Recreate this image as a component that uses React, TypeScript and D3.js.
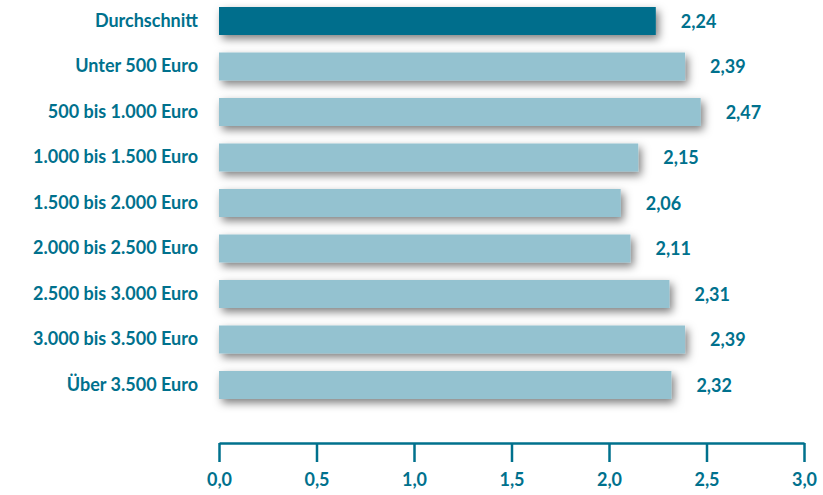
import * as d3 from "d3";
import { useEffect, useRef } from "react";

const width = 823;
const height = 495;

const categories = [
  "Durchschnitt",
  "Unter 500 Euro",
  "500 bis 1.000 Euro",
  "1.000 bis 1.500 Euro",
  "1.500 bis 2.000 Euro",
  "2.000 bis 2.500 Euro",
  "2.500 bis 3.000 Euro",
  "3.000 bis 3.500 Euro",
  "Über 3.500 Euro",
];
const values = [2.24, 2.39, 2.47, 2.15, 2.06, 2.11, 2.31, 2.39, 2.32];
const ticks = [0, 0.5, 1, 1.5, 2, 2.5, 3];

const dark = "#006e8c";
const light = "#94c2d0";
const textColor = "#00718d";
const font = "Lato, 'Open Sans', sans-serif";
const fontSize = 18;

const fmt = (v: number) => d3.format(".2f")(v).replace(".", ",");

const App = () => {
  const ref = useRef<HTMLDivElement>(null);

  useEffect(() => {
    document.body.style.margin = "0";
    const el = ref.current;
    if (!el) return;
    el.innerHTML = "";

    const x = d3.scaleLinear().domain([0, 3]).range([219, 804]);
    const y = d3
      .scaleBand<string>()
      .domain(categories)
      .range([-1.75, -1.75 + categories.length * 45.5])
      .paddingInner(0.385)
      .paddingOuter(0.1925);

    const svg = d3
      .create("svg")
      .attr("width", width)
      .attr("height", height)
      .style("display", "block")
      .style("font-family", font);

    const defs = svg.append("defs");
    const f = defs
      .append("filter")
      .attr("id", "shadow")
      .attr("x", "-10%")
      .attr("y", "-50%")
      .attr("width", "130%")
      .attr("height", "220%");
    f.append("feDropShadow")
      .attr("dx", 3)
      .attr("dy", 4)
      .attr("stdDeviation", 4)
      .attr("flood-color", "#000")
      .attr("flood-opacity", 0.5);

    // bars
    svg
      .append("g")
      .selectAll("rect")
      .data(values)
      .join("rect")
      .attr("x", x(0))
      .attr("y", (_, i) => y(categories[i])!)
      .attr("width", (d) => x(d) - x(0))
      .attr("height", y.bandwidth())
      .attr("fill", (_, i) => (i === 0 ? dark : light))
      .attr("filter", "url(#shadow)");

    // value labels
    svg
      .append("g")
      .selectAll("text")
      .data(values)
      .join("text")
      .attr("x", (d) => x(d) + 25)
      .attr("y", (_, i) => y(categories[i])! + y.bandwidth() / 2 + 6.5)
      .attr("fill", textColor)
      .attr("font-size", fontSize)
      .attr("font-weight", "bold")
      .text((d) => fmt(d));

    // category labels
    svg
      .append("g")
      .selectAll("text")
      .data(categories)
      .join("text")
      .attr("x", 198)
      .attr("y", (d) => y(d)! + y.bandwidth() / 2 + 5.5)
      .attr("text-anchor", "end")
      .attr("fill", textColor)
      .attr("font-size", fontSize)
      .attr("font-weight", "bold")
      .text((d) => d);

    // x axis
    const axis = svg
      .append("g")
      .attr("transform", "translate(0,443)")
      .call(
        d3
          .axisBottom(x)
          .tickValues(ticks)
          .tickSizeInner(19)
          .tickSizeOuter(0)
          .tickPadding(11)
          .tickFormat((d) => d3.format(".1f")(d as number).replace(".", ","))
      );
    axis.select(".domain").attr("stroke", textColor).attr("stroke-width", 2.5);
    axis.selectAll(".tick line").attr("stroke", textColor).attr("stroke-width", 2.5);
    axis
      .selectAll(".tick text")
      .attr("fill", textColor)
      .attr("font-size", fontSize)
      .attr("font-weight", "bold")
      .attr("font-family", font);

    el.append(svg.node()!);
  }, []);

  return <div ref={ref}></div>;
};

export default App;
